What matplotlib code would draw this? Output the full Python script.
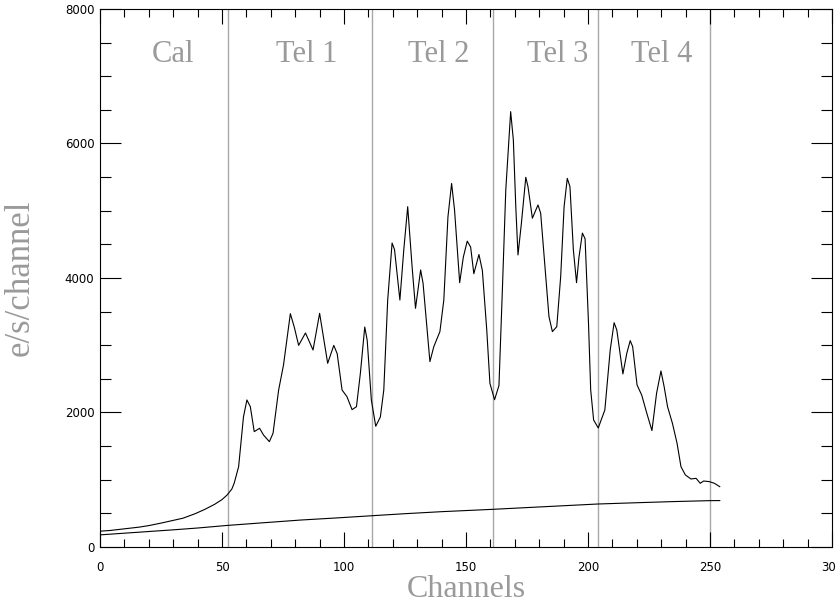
import matplotlib
matplotlib.use("Agg")
import matplotlib.pyplot as plt
from matplotlib.ticker import MultipleLocator

# ----------------------------- DATA -----------------------------
# measured spectrum, counts per channel
spec_channel = [0, 4, 8, 12, 16, 20, 25, 30, 34, 39, 43, 47, 50, 52, 54, 55,
                56.8, 58.8, 60.2, 61.6, 63.2, 65.4, 67, 69.4, 70.9, 73.2,
                75.2, 78, 79.6, 81.4, 84.2, 87.3, 90, 93.3, 95.8, 97.2, 99.2,
                101.2, 103.3, 105.1, 106.7, 108.5, 109.5, 111.2, 113, 114.9,
                116.3, 117.9, 119.7, 120.7, 122.9, 124.5, 126.1, 127.9, 129.3,
                131.4, 132.4, 135.2, 136.8, 139.3, 140.9, 142.6, 144.1, 145.3,
                147.4, 148.9, 150.5, 151.9, 153.2, 155.3, 156.7, 158.5, 159.8,
                161.7, 163.5, 164.9, 166.3, 168.3, 169.4, 170.4, 171.3, 172.7,
                174.5, 175.4, 177.2, 179.5, 180.6, 182.7, 184, 185.4, 187.2,
                188.8, 190.2, 191.5, 192.6, 194, 195.3, 196.3, 197.7, 198.8,
                200.2, 201.1, 202.3, 204.2, 206.9, 209.1, 210.7, 211.8, 214.3,
                215.9, 217.3, 218.3, 220.1, 222, 224.1, 226.2, 228.1, 229.9,
                231.2, 232.6, 234.6, 236.5, 238.1, 239.9, 242.2, 244.3, 246,
                247.4, 249.7, 251.8, 254]
spec_counts = [235, 245, 262, 278, 295, 318, 355, 395, 428, 495, 560, 635, 705,
               770, 860, 950,
               1194, 1937, 2186, 2086, 1715, 1765, 1665, 1566, 1690, 2334,
               2706, 3469, 3271, 2998, 3182, 2929, 3474, 2731, 2998, 2874, 2334,
               2235, 2042, 2086, 2582, 3271, 3073, 2186, 1795, 1934,
               2334, 3672, 4520, 4421, 3672, 4421, 5060, 4168, 3549,
               4119, 3920, 2756, 2979, 3202, 3672, 4911, 5406, 5010,
               3930, 4310, 4548, 4459, 4063, 4349, 4111, 3227, 2433,
               2190, 2400, 3821, 5309, 6473, 6052, 5060, 4342, 4813,
               5497, 5358, 4888, 5086, 4962, 4020, 3425, 3202, 3276,
               4020, 5060, 5481, 5358, 4416, 3930, 4310, 4667, 4583,
               3326, 2334, 1888, 1770, 2037, 2929, 3335, 3227, 2573,
               2880, 3068, 2979, 2409, 2260, 1988, 1731, 2285, 2617,
               2384, 2086, 1839, 1541, 1194, 1071, 1011, 1021, 947,
               981, 972, 947, 897]

# background level
bkg_channel = [0, 10, 20, 30, 40, 52, 65, 82, 97, 112, 125, 140, 161, 180,
               204, 220, 235, 250, 254]
bkg_counts = [180, 205, 230, 255, 282, 320, 355, 400, 432, 466, 495, 525, 560,
              595, 639, 658, 675, 689, 690]

# channel boundaries between the sections
boundaries = [52.5, 111.6, 161, 204, 250]
section_names = ["Cal", "Tel 1", "Tel 2", "Tel 3", "Tel 4"]
section_centres = [30, 84.5, 139, 187.5, 230]
# ------------------------------------------------------------------

LABEL_GREY = "#9a9a9a"
LINE_GREY = "#a8a8a8"

fig = plt.figure(figsize=(8.35, 6.05), dpi=100)
ax = fig.add_axes([0.1198, 0.0959, 0.8766, 0.8893])

ax.plot(spec_channel, spec_counts, color="black", lw=0.8)
ax.plot(bkg_channel, bkg_counts, color="black", lw=0.8)

for b in boundaries:
    ax.axvline(b, color=LINE_GREY, lw=1.0, zorder=0)

for name, xc in zip(section_names, section_centres):
    ax.text(xc, 7316, name, ha="center", va="center", fontsize=22,
            family="Liberation Serif", color=LABEL_GREY)

ax.set_xlim(0, 300)
ax.set_ylim(0, 8000)
ax.xaxis.set_major_locator(MultipleLocator(50))
ax.xaxis.set_minor_locator(MultipleLocator(10))
ax.yaxis.set_major_locator(MultipleLocator(2000))
ax.yaxis.set_minor_locator(MultipleLocator(500))

ax.tick_params(axis="both", which="both", direction="in",
               top=True, right=True, width=0.8, labelsize=8.5)
ax.tick_params(axis="x", which="major", length=11, pad=10)
ax.tick_params(axis="x", which="minor", length=5.5)
ax.tick_params(axis="y", which="major", length=15, pad=4)
ax.tick_params(axis="y", which="minor", length=8)
for s in ax.spines.values():
    s.set_linewidth(0.8)

ax.set_xlabel("Channels", fontsize=23, family="Liberation Serif",
              color=LABEL_GREY, labelpad=1)
ax.set_ylabel("e/s/channel", fontsize=25, family="Liberation Serif",
              color=LABEL_GREY, labelpad=20)

fig.savefig("out.png", dpi=100)
